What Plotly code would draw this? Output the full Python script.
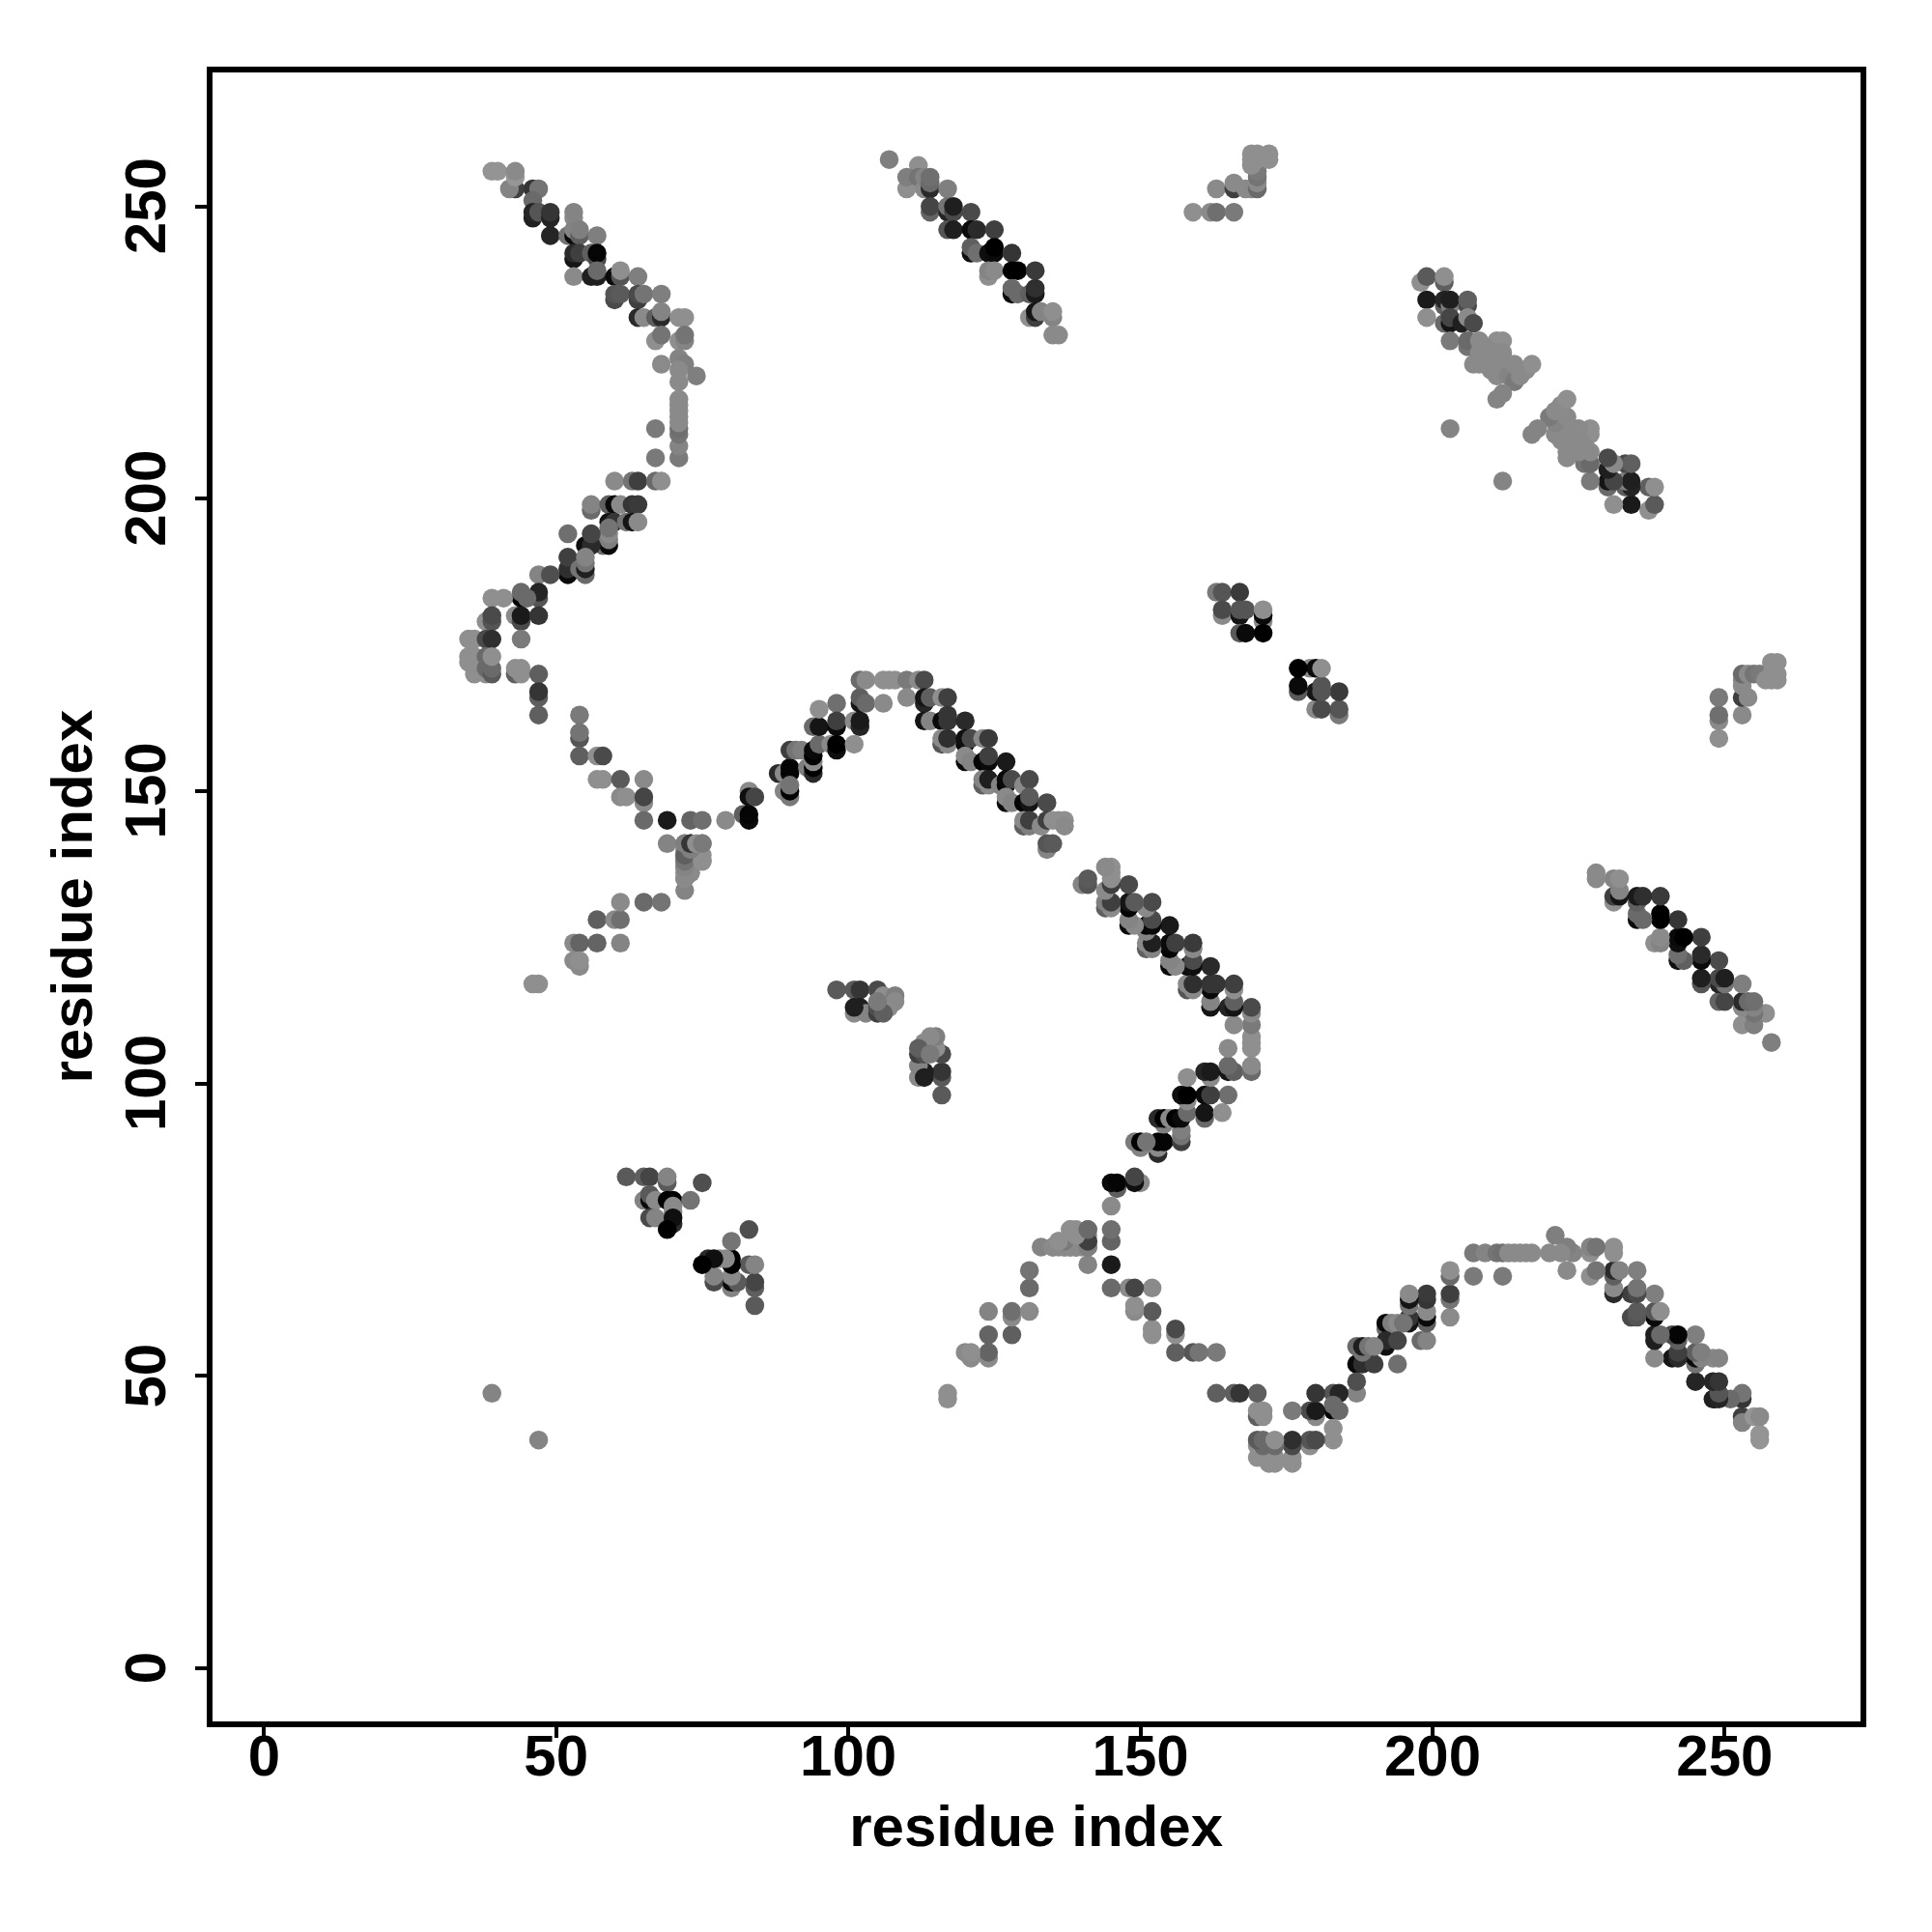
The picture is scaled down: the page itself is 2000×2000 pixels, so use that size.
import plotly.graph_objects as go

# Contacts read from the upper-left half of the symmetric map: (residue i, residue j, grey level)
outer_arc_top = [
 (39,256,140),(40,256,140),(43,253,60),(42,253,125),(43,255,142),(43,256,130),(46,253,50),(47,253,110),
 (46,251,100),(46,248,30),(46,249,35),(47,249,80),(49,248,35),(49,249,50),(49,245,35),
 (53,248,130),(53,249,125),(52,245,110),(53,245,10),(53,246,125),(54,245,90),(54,246,120),(57,245,120),
 (53,241,20),(53,242,40),(54,242,60),(56,242,90),(57,241,70),(57,242,5),
 (53,238,130),(56,238,30),(57,238,30),(57,239,100),(60,238,10),(61,238,80),(61,239,135),(64,238,120),
 (60,234,70),(60,235,80),(61,235,85),(64,234,60),(64,235,70),(65,235,110),(68,235,120),
 (64,231,40),(65,231,130),(67,231,90),(68,231,40),(68,232,125),(71,231,135),(72,231,135),
 (67,227,135),(68,228,110),(71,227,135),(72,227,125),(72,228,110),
 (68,223,130),(71,224,125),(72,223,120),(71,222,130),(71,220,130),(74,221,120),
 (71,207,115),(71,209,125),(71,211,110),(71,212,105),(71,213,130),(71,214,130),(71,215,130),(71,216,130),(71,217,130),
 (67,212,115),(67,207,115),
 (60,203,130),(63,203,110),(64,203,60),(67,203,100),(68,203,135),
]
outer_arc_mid = [
 (56,198,100),(56,199,125),(59,199,90),(60,199,10),(61,199,130),(63,199,50),(64,199,55),
 (59,196,20),(60,196,50),(62,196,110),(63,196,20),(64,196,130),
 (58,192,100),(59,192,10),(59,193,120),(59,194,130),(59,195,110),
 (52,194,105),(55,192,15),(56,192,40),(56,194,65),
 (52,187,10),(52,188,45),(52,190,60),
 (55,187,100),(54,188,110),(55,188,30),(55,189,110),(55,190,125),
 (47,187,125),(49,187,75),
 (47,183,80),(47,184,35),(44,183,5),(44,184,100),(45,183,100),
 (39,183,135),(41,183,135),
 (43,180,130),(44,179,70),(44,180,25),(47,180,50),
 (38,179,135),(39,179,80),(39,180,70),
 (44,176,115),(35,176,135),(36,176,135),(38,176,70),(39,176,45),
 (35,172,135),(35,173,135),(36,170,135),(36,172,135),(36,173,135),
 (38,170,135),(38,171,100),(38,173,100),(39,170,85),(39,171,100),(39,173,135),
 (43,170,90),(43,171,135),(44,170,135),(44,171,135),
 (47,170,90),(47,166,90),(47,167,50),(47,163,90),
]
left_arc = [
 (54,163,115),(54,159,80),(54,160,110),(54,156,90),(57,156,135),(58,156,70),
 (57,152,135),(58,152,135),(61,152,85),(65,152,130),
 (61,149,130),(62,149,135),(65,148,130),(65,149,65),
 (65,145,100),(69,145,25),(73,145,95),(75,145,105),(79,145,130),
 (82,146,90),(83,145,10),(83,146,5),
 (83,150,130),(83,149,15),(84,149,65),
 (88,153,40),(89,153,130),(90,153,5),(90,154,5),(89,150,125),(90,149,115),(90,150,0),(90,151,110),
 (90,157,60),(91,157,110),(92,157,120),
 (93,154,120),(94,153,40),(94,154,0),(94,155,130),(94,156,0),(94,157,10),(95,158,100),
 (94,161,100),(95,161,20),(95,164,135),
 (98,165,105),(98,161,10),(98,162,60),(97,158,130),(98,157,15),(98,158,0),(101,158,135),
 (101,162,130),(102,161,35),(102,162,25),
 (102,165,20),(102,166,90),(103,165,100),(102,169,100),(103,169,130),(106,165,130),
 (106,169,135),(107,169,135),(108,169,135),(110,169,115),(110,166,130),(112,169,130),(113,169,70),
]
right_arc = [
 (113,165,35),(113,166,20),(114,166,90),(116,166,135),(117,166,60),
 (113,162,20),(114,162,125),(116,162,10),(117,162,50),(117,163,50),(120,162,40),
 (116,158,80),(116,159,130),(117,158,130),(117,159,45),(120,158,10),(120,159,15),(121,159,70),(123,159,130),(124,159,55),
 (120,155,10),(120,156,130),(121,155,125),(123,155,5),(124,155,10),(124,156,60),(127,155,25),
 (123,151,90),(123,152,125),(124,151,130),(124,152,30),(126,151,125),(127,151,5),(127,152,10),(128,152,70),(130,151,130),(131,152,70),
 (127,148,10),(127,149,130),(128,148,125),(130,148,5),(131,148,20),(131,149,85),(134,148,70),
 (130,144,90),(130,145,130),(131,144,120),(131,145,60),(133,144,130),(134,145,60),(135,145,135),(136,145,135),(137,145,135),(137,144,130),
 (134,140,125),(134,141,80),(135,141,85),
]
lower_wing = [
 (46,117,135),(47,117,135),(53,124,130),(54,124,95),(57,124,95),(61,124,125),
 (53,121,130),(54,120,130),(54,121,135),(57,128,90),(60,128,130),(61,128,105),
 (61,131,130),(65,131,100),(68,131,110),
 (69,141,125),(72,135,130),(72,136,130),(72,137,130),(72,138,130),(72,139,130),(72,140,130),(72,141,120),
 (73,141,60),(73,137,115),(73,136,135),(74,139,135),(75,138,135),(75,141,100),
 (39,47,125),
]
inner_wing = [
 (133,72,125),(135,72,130),(136,73,130),(137,72,125),(138,72,110),(139,72,90),(138,75,135),(139,75,135),
 (140,73,120),(141,72,120),(141,73,50),(141,74,135),(141,75,115),
]
top_band = [
 (107,258,120),(112,257,135),(110,253,135),(110,255,120),(112,255,110),(113,253,130),(113,255,125),
 (114,253,40),(114,254,100),(114,255,105),(117,253,120),
 (114,249,95),(114,250,65),(117,249,35),(117,250,110),(118,249,70),(118,250,30),(121,249,70),
 (117,246,80),(118,246,30),(121,246,10),(122,246,40),(125,246,60),
 (121,242,15),(121,243,90),(122,242,105),(124,242,15),(125,242,10),(125,243,0),(128,242,50),
 (124,238,135),(124,239,125),(125,239,130),(128,239,0),(129,239,0),(132,239,55),
 (128,235,10),(128,236,100),(129,235,100),(131,235,90),(132,235,25),(132,236,45),
 (131,231,135),(132,231,60),(132,232,20),(133,232,125),(135,231,125),(135,232,135),
 (135,228,130),(136,228,130),
]
top_corner = [
 (159,249,135),(162,249,130),(163,249,105),(166,249,115),(163,253,130),(166,253,60),(166,254,130),(168,253,130),
 (169,253,130),(170,253,100),(170,254,130),(170,255,110),(170,256,115),(169,257,135),(169,258,135),(169,259,135),
 (170,258,135),(170,259,135),(172,258,135),(172,259,135),
]
diag_band = [
 (198,237,135),(199,238,85),(202,237,90),(202,238,135),(199,234,25),(202,233,90),(202,234,35),(203,233,120),(203,234,30),
 (206,233,70),(206,234,90),(199,231,135),(202,230,100),(203,230,20),(203,231,65),(205,230,30),(206,231,130),(207,230,70),
 (203,227,115),(206,226,110),(206,227,100),(208,227,130),(211,227,135),(212,227,135),
 (207,223,130),(208,223,130),(208,225,130),(209,226,130),(209,224,130),(210,224,130),(210,222,130),(211,221,130),(211,222,130),
 (211,223,130),(211,225,130),(212,225,130),(212,222,130),(212,223,130),(212,224,130),(213,222,130),(213,223,130),
 (213,221,125),(214,220,115),(214,223,130),(215,222,130),(215,221,130),(216,222,130),(217,223,135),(211,217,125),(212,218,125),
 (203,212,125),
]
mid_cluster = [
 (163,184,115),(164,184,80),(167,184,55),(164,180,130),(164,181,70),(167,180,20),(167,181,80),(168,181,80),
 (171,179,130),(171,180,10),(171,181,135),(167,177,85),(168,177,10),(171,177,0),
]
low_cluster = [
 (62,84,85),(65,84,90),(66,84,65),(69,83,85),(69,84,125),(75,83,75),
 (65,80,125),(66,80,10),(66,81,85),(67,80,130),(69,80,0),(70,80,0),(70,78,130),(70,79,130),(73,80,110),
 (66,77,70),(67,77,125),(70,76,40),(70,77,15),(69,75,0),
]
small_cluster = [
 (98,116,85),(101,116,85),(102,116,50),(105,116,70),(106,115,135),(108,115,120),(108,114,130),(107,113,130),
 (101,112,130),(102,113,30),(103,112,125),(105,112,60),(105,113,75),(106,112,90),(105,114,115),(101,113,30),
]

groups = [outer_arc_top, outer_arc_mid, left_arc, right_arc, lower_wing, inner_wing,
          top_band, top_corner, diag_band, mid_cluster, low_cluster, small_cluster]
rows = [c for g in groups for c in g]
# the map is symmetric: each contact (i, j) also appears as (j, i)
x = [c[0] for c in rows] + [c[1] for c in rows]
y = [c[1] for c in rows] + [c[0] for c in rows]
levels = [c[2] + c[2] // 16 for c in rows]
colors = [f"rgb({g},{g},{g})" for g in levels] * 2

ticks = [0, 50, 100, 150, 200, 250]
font = dict(family="Liberation Sans", size=60, color="black", weight=700)
axis = dict(tickvals=ticks, ticktext=[str(t) for t in ticks],
            ticks="outside", ticklen=12, tickwidth=4, tickcolor="black",
            showline=True, linewidth=5.5, linecolor="black", mirror=True,
            showgrid=False, zeroline=False, tickfont=font, automargin=False)

fig = go.Figure(go.Scatter(x=x, y=y, mode="markers",
                           marker=dict(size=19.5, color=colors, line=dict(width=0)),
                           showlegend=False, hoverinfo="skip"))
fig.update_layout(
    width=2000, height=2000, margin=dict(l=0, r=0, t=0, b=0, pad=0),
    paper_bgcolor="white", plot_bgcolor="white",
    xaxis=dict(axis, range=[-8.9, 273.2], domain=[211.5/2000, 1917.7/2000], ticklabelstandoff=-33,
               title=dict(text="residue index", font=font, standoff=21)),
    yaxis=dict(axis, range=[-9.08, 272.99], domain=[226.3/2000, 1933.5/2000], showticklabels=False,
               title=dict(text="residue index", font=font, standoff=89)),
    annotations=[dict(text=str(t), x=142.5/2000, xref="paper", y=t, yref="y", textangle=-90,
                      xanchor="center", yanchor="middle", showarrow=False, font=font) for t in ticks],
)
fig.write_html("out.html")
